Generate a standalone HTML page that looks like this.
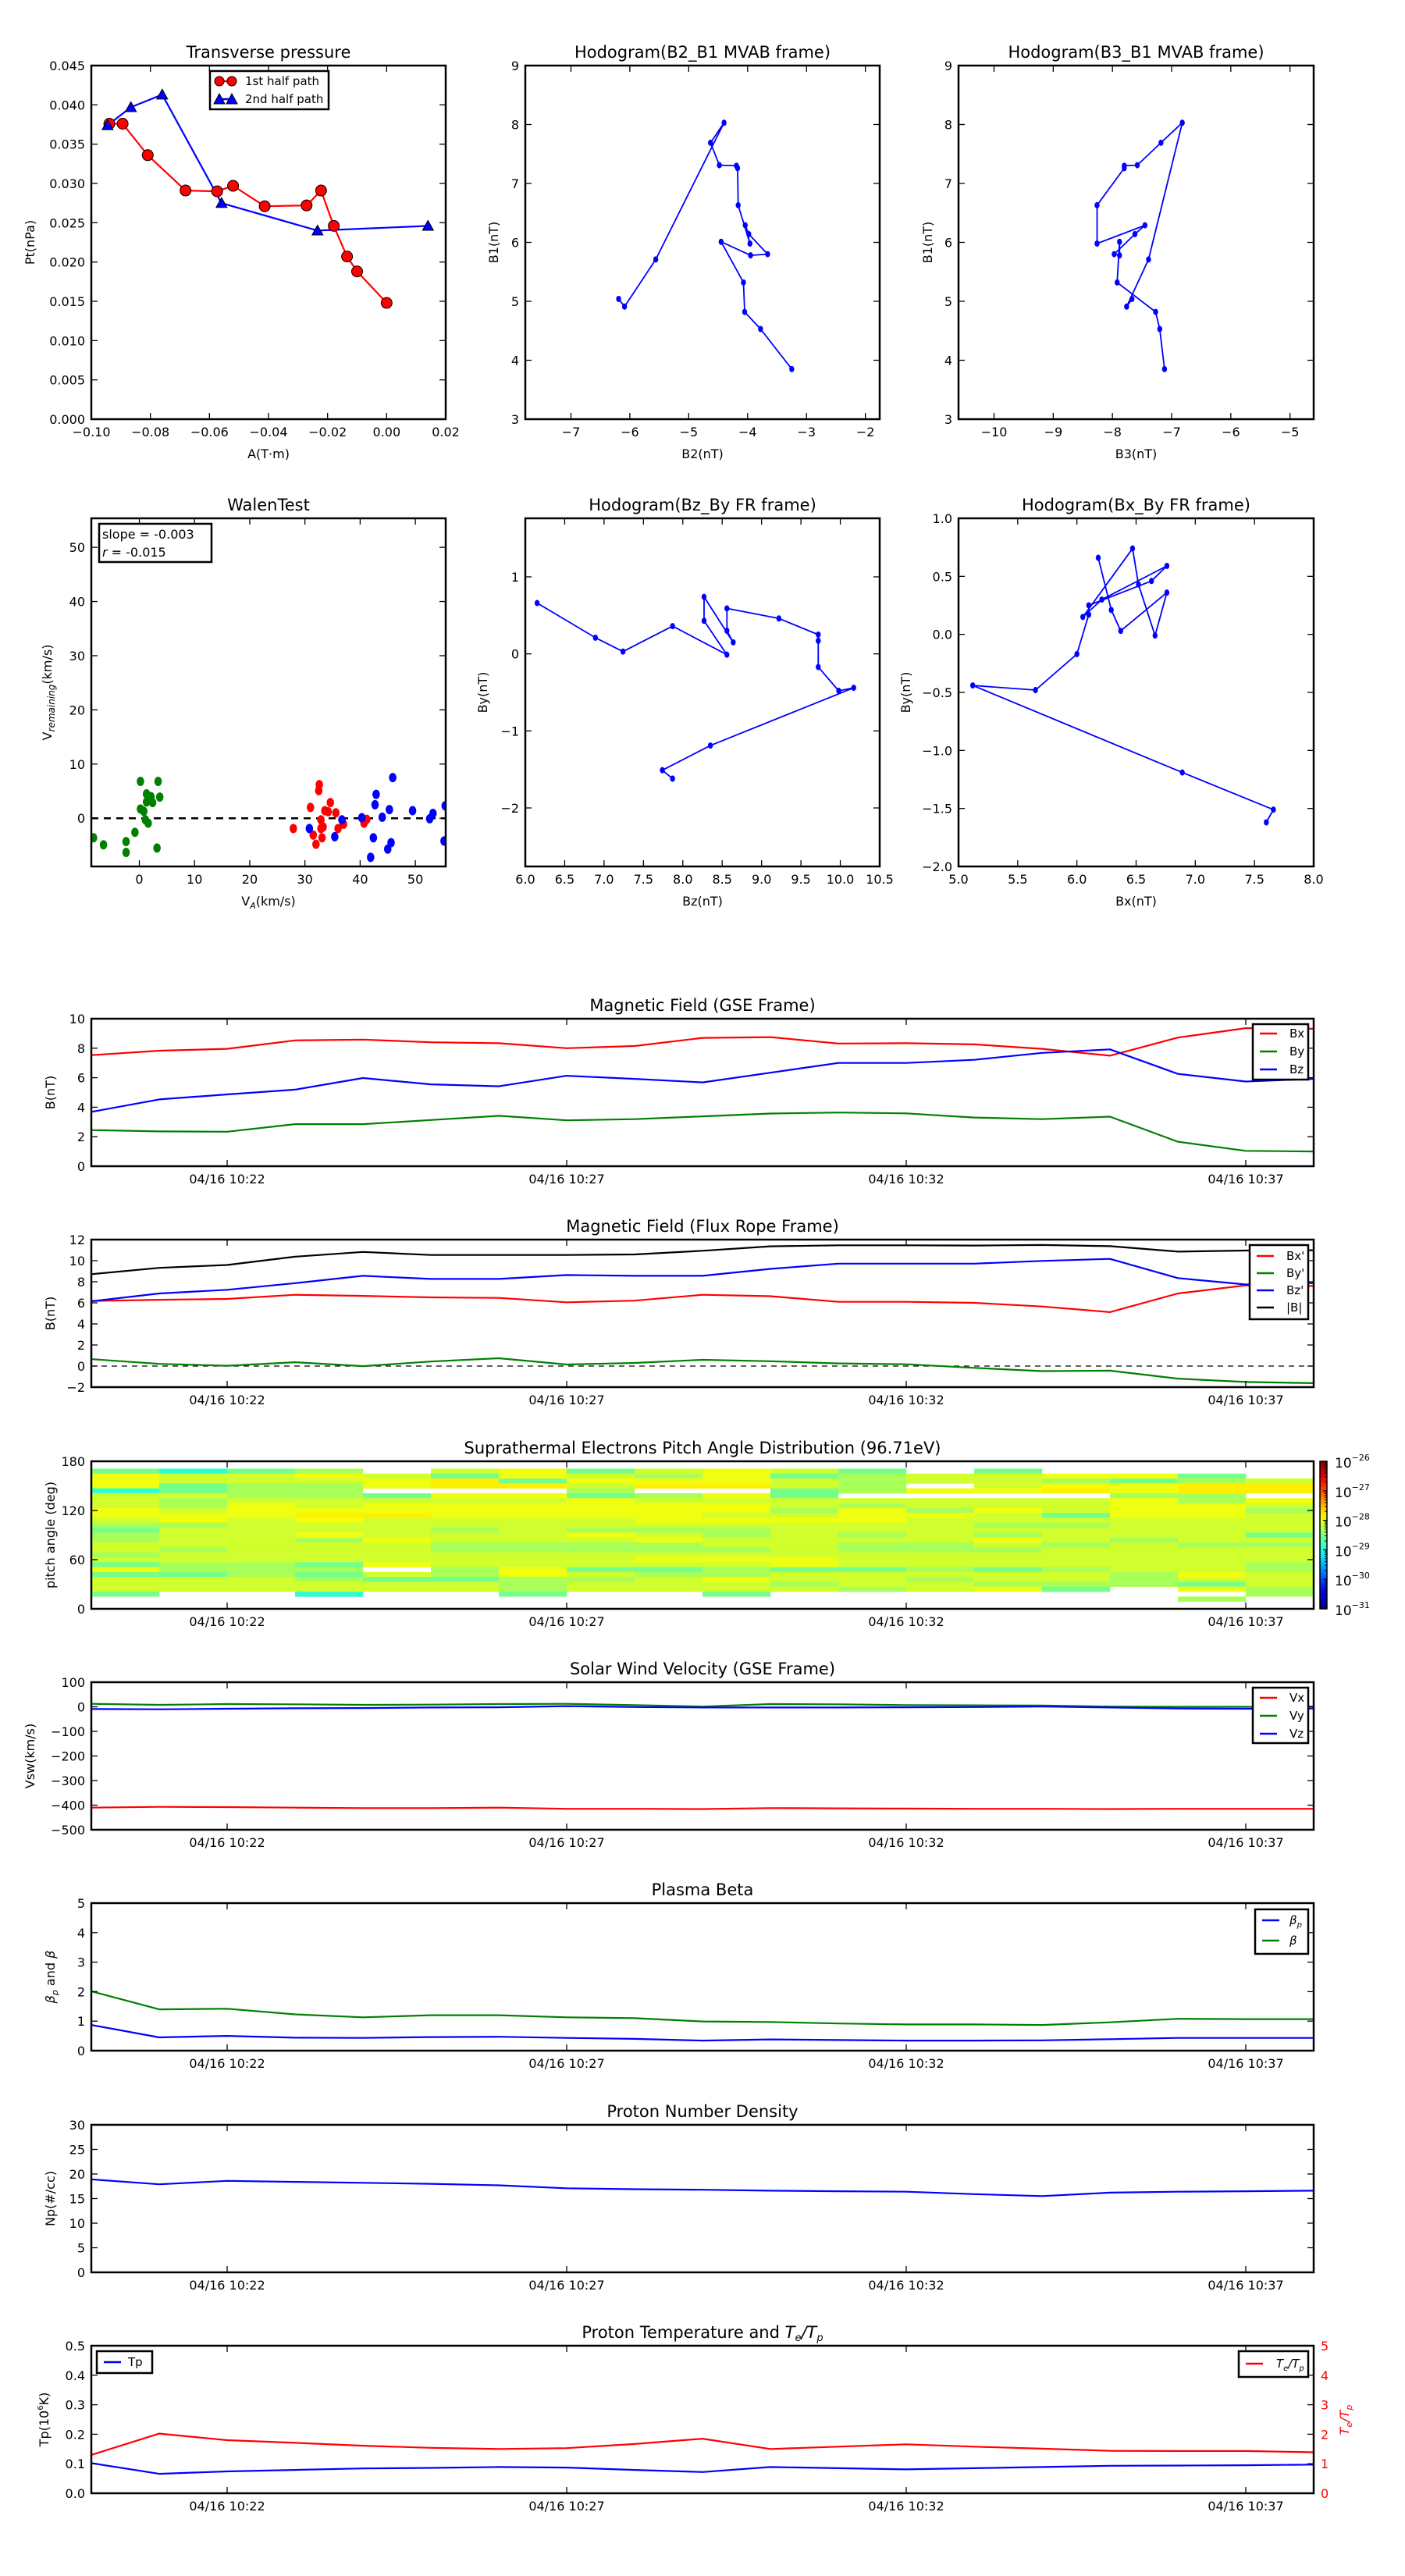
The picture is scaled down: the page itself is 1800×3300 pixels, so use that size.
<!DOCTYPE html>
<html><head><meta charset="utf-8"><title>Flux rope analysis</title>
<style>
html,body{margin:0;padding:0;background:#fff;}
svg{display:block;font-family:"DejaVu Sans","Liberation Sans",sans-serif;}
</style></head>
<body>
<svg id="fig" xmlns="http://www.w3.org/2000/svg" width="1800" height="3300" viewBox="0 0 1800 3300"></svg>
<script>
// ---------- DATA ----------
const ptRedA=[-0.0939,-0.0894,-0.0809,-0.0681,-0.0574,-0.052,-0.0413,-0.0271,-0.0222,-0.0179,-0.0134,-0.010,0.0];
const ptRedP=[0.0376,0.0376,0.0336,0.0291,0.0290,0.0297,0.0271,0.0272,0.0291,0.0246,0.0207,0.0188,0.0148];
const ptBlueA=[-0.0945,-0.0866,-0.076,-0.0559,-0.0234,0.014];
const ptBlueP=[0.0374,0.0397,0.0413,0.0275,0.0240,0.0246];
const mvB1=[5.04,4.91,5.71,8.03,7.69,7.31,7.30,7.26,6.63,5.98,6.29,6.14,5.80,5.78,6.01,5.32,4.82,4.53,3.85];
const mvB2=[-6.19,-6.09,-5.56,-4.40,-4.63,-4.48,-4.19,-4.17,-4.16,-3.96,-4.04,-3.98,-3.66,-3.95,-4.45,-4.07,-4.05,-3.78,-3.25];
const mvB3=[-7.67,-7.76,-7.39,-6.82,-7.18,-7.58,-7.80,-7.80,-8.26,-8.26,-7.45,-7.62,-7.97,-7.88,-7.88,-7.92,-7.27,-7.20,-7.12];
const walenGreenVA=[-8.3,-6.5,-2.4,-2.4,-0.8,0.2,0.2,0.8,1.1,1.3,1.6,1.3,2.1,2.4,3.4,3.7,3.2];
const walenGreenVR=[-3.6,-4.9,-4.3,-6.3,-2.6,6.8,1.7,1.3,-0.3,3.0,-0.9,4.5,4.0,2.9,6.8,3.9,-5.5];
const walenRedVA=[27.9,31.0,31.5,32.0,32.5,32.6,32.9,32.9,33.1,33.6,34.2,34.6,35.6,36.0,37.0,40.7,41.2,33.3];
const walenRedVR=[-1.9,2.0,-3.1,-4.8,5.1,6.2,-0.3,-1.9,-3.6,1.4,1.2,2.9,1.0,-1.9,-1.1,-0.9,-0.2,-1.6];
const walenBlueVA=[30.8,35.4,36.7,40.3,41.9,42.4,42.7,42.9,44.0,45.0,45.3,45.6,45.9,49.5,52.6,53.2,55.4,55.2];
const walenBlueVR=[-1.9,-3.4,-0.3,0.1,-7.2,-3.6,2.5,4.4,0.2,-5.7,1.6,-4.5,7.5,1.4,-0.1,0.9,2.3,-4.2];
const timeMin=[0,1,2,3,4,5,6,7,8,9,10,11,12,13,14,15,16,17,18];
const timeTicks=[2,7,12,17];
const timeTickLabels=['04/16 10:22','04/16 10:27','04/16 10:32','04/16 10:37'];
const gseBx=[7.53,7.83,7.96,8.53,8.58,8.40,8.34,8.00,8.15,8.70,8.75,8.32,8.34,8.26,7.96,7.49,8.72,9.36,9.32];
const gseBy=[2.45,2.36,2.34,2.85,2.85,3.13,3.42,3.11,3.19,3.38,3.57,3.64,3.58,3.30,3.19,3.36,1.66,1.04,1.00];
const gseBz=[3.68,4.53,4.87,5.19,5.98,5.55,5.42,6.13,5.92,5.68,6.34,7.00,7.00,7.21,7.68,7.92,6.26,5.74,5.92];
const frBx=[6.18,6.29,6.37,6.76,6.66,6.52,6.47,6.05,6.21,6.76,6.63,6.10,6.10,6.00,5.65,5.12,6.89,7.66,7.60];
const frBy=[0.66,0.21,0.03,0.36,-0.01,0.43,0.74,0.15,0.30,0.59,0.46,0.25,0.17,-0.17,-0.48,-0.44,-1.19,-1.51,-1.62];
const frBz=[6.15,6.89,7.24,7.87,8.56,8.27,8.27,8.64,8.56,8.56,9.22,9.72,9.72,9.72,9.98,10.17,8.35,7.74,7.87];
const frBt=[8.72,9.32,9.59,10.38,10.83,10.54,10.54,10.54,10.59,10.94,11.36,11.46,11.46,11.44,11.49,11.38,10.86,10.96,10.99];
// PAD: rows from 168 deg (top) down to 12 deg, 18 one-minute columns
const padCodes={'c':-28.9,'g':-28.55,'l':-28.3,'y':-28.1,'Y':-27.95,'o':-27.8};
const padRows=[
"gcgl.yYgyYyg.g....",
"YyyYygYylYglyyYYg.",
"YyyyYogYYYylyylgly",
"YgllYooyooyl.yYYoo",
"cgll...l..glYYoYoo",
"yyllgYYglYg....ll.",
"ylyyyyyYyyyyyyyYlY",
"ylYyYYYYYYylyyyYYy",
"YyYYYYYYYYlYlYyYYl",
"YYYooYYYYyyYYygYYy",
"yYyYyyyyYYYYyyyyyy",
"llyyyyyyyyyyyllyyy",
"gyyyylylllyyyyyyyy",
"lyyYyyyYylylylyyyg",
"lyylYyyyYyyyyYylyy",
"yyyyyllllyyllylyll",
"ylyyylllllylllyyyy",
"lyyyyyyyyyyyyyyyyy",
"yyyyyyyyYYYyyyyyyy",
"gllgYyyyyyYyyyyyyl",
"Ylll.lYgglgglglyyl",
"gglgylYyllyyyyylYy",
"yyylggllyYyylyylyy",
"yyyyyylyyylyylllgy",
"yyyyyylyyyylyYg.Yl",
"g..c..g..g.......l",
"................l."];
const swVx=[-410,-407,-408,-410,-412,-412,-410,-415,-415,-416,-412,-413,-414,-415,-415,-416,-415,-415,-415];
const swVy=[12,8,11,10,8,9,11,12,7,1,11,10,7,6,5,1,0,0,1];
const swVz=[-9,-10,-8,-6,-5,-3,-2,3,-1,-3,-3,-3,-2,-1,1,-3,-7,-8,-7];
const betaP=[0.87,0.45,0.50,0.44,0.43,0.46,0.47,0.43,0.40,0.34,0.38,0.36,0.34,0.34,0.35,0.39,0.43,0.43,0.43];
const betaT=[2.01,1.40,1.42,1.23,1.13,1.20,1.20,1.13,1.10,0.99,0.97,0.92,0.89,0.89,0.87,0.96,1.08,1.07,1.07];
const npDen=[18.9,17.9,18.6,18.4,18.2,18.0,17.7,17.1,16.9,16.8,16.6,16.5,16.4,15.9,15.5,16.2,16.4,16.5,16.6];
const tpTemp=[0.102,0.066,0.074,0.079,0.084,0.086,0.089,0.087,0.079,0.072,0.089,0.085,0.081,0.085,0.089,0.093,0.094,0.095,0.097];
const teTp=[1.30,2.02,1.80,1.71,1.61,1.54,1.50,1.53,1.67,1.85,1.50,1.58,1.66,1.58,1.51,1.44,1.43,1.43,1.39];

// ---------- HELPERS ----------
const NS='http://www.w3.org/2000/svg';
const svg=document.getElementById('fig');
let clipId=0;
function mk(tag,attrs,parent){const e=document.createElementNS(NS,tag);for(const k in attrs)e.setAttribute(k,attrs[k]);(parent||svg).appendChild(e);return e;}
function nm(e,n){
  
  
  return e;
}
function txt(x,y,html,opt,parent,name){
  const o=Object.assign({size:16,anchor:'middle',fill:'#000'},opt||{});
  const a={x:x,y:y,'font-size':o.size,'text-anchor':o.anchor,fill:o.fill};
  if(o.rot){a.transform='rotate('+o.rot+' '+x+' '+y+')';}
  if(o.style)a['font-style']=o.style;
  const t=mk('text',a,parent);t.innerHTML=html;nm(t,name||'label');return t;
}
function fmt(v,d){const s=v.toFixed(d);return s.replace('-','\u2212');}
function axes(c){
  const g=mk('g',{});nm(g,c.name);
  const sx=v=>c.x0+(v-c.xmin)/(c.xmax-c.xmin)*c.w;
  const sy=v=>c.y0+c.h-(v-c.ymin)/(c.ymax-c.ymin)*c.h;
  const id='clip'+(clipId++);
  const cp=mk('clipPath',{id:id},g);mk('rect',{x:c.x0,y:c.y0,width:c.w,height:c.h},cp);
  const data=mk('g',{'clip-path':'url(#'+id+')'},g);nm(data,c.name+'-data');
  const fr=mk('rect',{x:c.x0,y:c.y0,width:c.w,height:c.h,fill:'none',stroke:'#000','stroke-width':2.5},g);nm(fr,c.name+'-frame');
  const tk=mk('g',{stroke:'#000','stroke-width':1.3},g);nm(tk,c.name+'-ticks');
  (c.xticks||[]).forEach((v,i)=>{const x=sx(v);
    mk('line',{x1:x,x2:x,y1:c.y0+c.h,y2:c.y0+c.h-8},tk);mk('line',{x1:x,x2:x,y1:c.y0,y2:c.y0+8},tk);
    const lab=c.xlabels?c.xlabels[i]:fmt(v,c.xdec||0);
    txt(x,c.y0+c.h+22,lab,{size:16},g,'x-tick-label');});
  (c.yticks||[]).forEach((v,i)=>{const y=sy(v);
    mk('line',{x1:c.x0,x2:c.x0+8,y1:y,y2:y},tk);
    if(!c.noRightTicks)mk('line',{x1:c.x0+c.w,x2:c.x0+c.w-8,y1:y,y2:y},tk);
    const lab=c.ylabels?c.ylabels[i]:fmt(v,c.ydec||0);
    txt(c.x0-8,y+6,lab,{size:16,anchor:'end'},g,'y-tick-label');});
  if(c.title)txt(c.x0+c.w/2,c.y0-10,c.title,{size:21},g,'chart-title');
  if(c.xtitle)txt(c.x0+c.w/2,c.y0+c.h+50,c.xtitle,{size:16},g,'x-axis-title');
  if(c.ytitle)txt(c.ylx,c.y0+c.h/2,c.ytitle,{size:16,rot:-90},g,'y-axis-title');
  return {sx,sy,g,data,c};
}
function line(ax,xs,ys,color,name,opt){
  const o=opt||{};
  const pts=xs.map((x,i)=>ax.sx(x).toFixed(1)+','+ax.sy(ys[i]).toFixed(1)).join(' ');
  const p=mk('polyline',{points:pts,fill:'none',stroke:color,'stroke-width':o.w||2.2,'stroke-linejoin':'round'},ax.data);
  if(o.dash)p.setAttribute('stroke-dasharray',o.dash);
  nm(p,name);return p;
}
function dots(ax,xs,ys,color,name,r,stroke){
  xs.forEach((x,i)=>{const d=mk('ellipse',{cx:ax.sx(x),cy:ax.sy(ys[i]),rx:r*0.8,ry:r,fill:color},ax.data);
    if(stroke){d.setAttribute('stroke','#000');d.setAttribute('stroke-width',1);d.setAttribute('rx',r);}
    nm(d,name);});
}
function tris(ax,xs,ys,color,name,r){
  xs.forEach((x,i)=>{const cx=ax.sx(x),cy=ax.sy(ys[i]);
    const t=mk('polygon',{points:(cx)+','+(cy-r)+' '+(cx-r)+','+(cy+r*0.8)+' '+(cx+r)+','+(cy+r*0.8),fill:color,stroke:'#000','stroke-width':1},ax.data);
    nm(t,name);});
}
function legend(x,y,w,h,entries,name){
  const g=mk('g',{});nm(g,name);
  const r=mk('rect',{x:x,y:y,width:w,height:h,fill:'#fff',stroke:'#000','stroke-width':2.5},g);nm(r,'legend-box');
  entries.forEach(e=>{
    const l=mk('line',{x1:x+9,x2:x+31,y1:e.y,y2:e.y,stroke:e.color,'stroke-width':2.5},g);nm(l,'legend-line');
    if(e.marker==='circle'){const m=mk('circle',{cx:x+12,cy:e.y,r:6,fill:e.color,stroke:'#000'},g);nm(m,'legend-marker');const m2=mk('circle',{cx:x+28,cy:e.y,r:6,fill:e.color,stroke:'#000'},g);nm(m2,'legend-marker');}
    if(e.marker==='tri'){[x+12,x+28].forEach(cx=>{const m=mk('polygon',{points:cx+','+(e.y-7)+' '+(cx-7)+','+(e.y+6)+' '+(cx+7)+','+(e.y+6),fill:e.color,stroke:'#000'},g);nm(m,'legend-marker');});}
    txt(x+e.lx,e.y+5,e.label,{size:15,anchor:'start',style:e.style},g,'legend-label');
  });
}
function jet(v){v=Math.max(0,Math.min(1,v));
  const f=a=>Math.round(255*Math.max(0,Math.min(1,1.5-Math.abs(4*v-a))));
  return 'rgb('+f(3)+','+f(2)+','+f(1)+')';}
function range(a,b,s){const r=[];for(let v=a;v<=b+1e-9;v+=s)r.push(+v.toFixed(6));return r;}

// ---------- ROW 1 ----------
const R1Y=84,R1H=453;
const axPt=axes({name:'transverse-pressure-chart',x0:117,y0:R1Y,w:454,h:R1H,xmin:-0.10,xmax:0.02,ymin:0,ymax:0.045,
  xticks:range(-0.10,0.02,0.02),xdec:2,yticks:range(0,0.045,0.005),ydec:3,title:'Transverse pressure',xtitle:'A(T\u00b7m)',ytitle:'Pt(nPa)',ylx:44});
line(axPt,ptRedA,ptRedP,'#ff0000','first-half-path-line');
line(axPt,ptBlueA,ptBlueP,'#0000ff','second-half-path-line');
dots(axPt,ptRedA,ptRedP,'#ff0000','first-half-point',7,true);
tris(axPt,ptBlueA,ptBlueP,'#0000ff','second-half-point',7);
legend(269,91,152,49,[{color:'#ff0000',label:'1st half path',marker:'circle',y:104,lx:45},{color:'#0000ff',label:'2nd half path',marker:'tri',y:127,lx:45}],'pressure-legend');

const axH1=axes({name:'hodogram-b2-b1-chart',x0:673,y0:R1Y,w:454,h:R1H,xmin:-7.775,xmax:-1.757,ymin:3,ymax:9,
  xticks:range(-7,-2,1),yticks:range(3,9,1),title:'Hodogram(B2_B1 MVAB frame)',xtitle:'B2(nT)',ytitle:'B1(nT)',ylx:638});
line(axH1,mvB2,mvB1,'#0000ff','hodogram-b2-b1-line',{w:1.8});
dots(axH1,mvB2,mvB1,'#0000ff','hodogram-point',4);
const axH2=axes({name:'hodogram-b3-b1-chart',x0:1228,y0:R1Y,w:455,h:R1H,xmin:-10.6,xmax:-4.6,ymin:3,ymax:9,
  xticks:range(-10,-5,1),yticks:range(3,9,1),title:'Hodogram(B3_B1 MVAB frame)',xtitle:'B3(nT)',ytitle:'B1(nT)',ylx:1194});
line(axH2,mvB3,mvB1,'#0000ff','hodogram-b3-b1-line',{w:1.8});
dots(axH2,mvB3,mvB1,'#0000ff','hodogram-point',4);

// ---------- ROW 2 ----------
const R2Y=664,R2H=446;
const axW=axes({name:'walen-test-chart',x0:117,y0:R2Y,w:454,h:R2H,xmin:-8.7,xmax:55.5,ymin:-8.9,ymax:55.35,
  xticks:range(0,50,10),yticks:range(0,50,10),title:'WalenTest',
  xtitle:'V<tspan font-size="11" dy="4" font-style="italic">A</tspan><tspan dy="-4">(km/s)</tspan>',
  ytitle:'V<tspan font-size="12" dy="4" font-style="italic">remaining</tspan><tspan dy="-4">(km/s)</tspan>',ylx:66});
line(axW,[-8.7,55.5],[0,0],'#000','zero-line',{dash:'9,7',w:2.5});
dots(axW,walenGreenVA,walenGreenVR,'#008000','walen-green-point',6);
dots(axW,walenRedVA,walenRedVR,'#ff0000','walen-red-point',6);
dots(axW,walenBlueVA,walenBlueVR,'#0000ff','walen-blue-point',6);
(function(){const g=mk('g',{});nm(g,'walen-stats-box');
  const r=mk('rect',{x:127,y:671,width:144,height:49,fill:'#fff',stroke:'#000','stroke-width':2.5},g);nm(r,'stats-box-frame');
  txt(131,690,'slope = -0.003',{size:16,anchor:'start'},g,'slope-text');
  txt(131,713,'<tspan font-style="italic">r</tspan> = -0.015',{size:16,anchor:'start'},g,'r-text');})();

const axH3=axes({name:'hodogram-bz-by-chart',x0:673,y0:R2Y,w:454,h:R2H,xmin:6.0,xmax:10.5,ymin:-2.76,ymax:1.76,
  xticks:range(6,10.5,0.5),xdec:1,yticks:range(-2,1,1),title:'Hodogram(Bz_By FR frame)',xtitle:'Bz(nT)',ytitle:'By(nT)',ylx:624});
line(axH3,frBz,frBy,'#0000ff','hodogram-bz-by-line',{w:1.8});
dots(axH3,frBz,frBy,'#0000ff','hodogram-point',4);
const axH4=axes({name:'hodogram-bx-by-chart',x0:1228,y0:R2Y,w:455,h:R2H,xmin:5.0,xmax:8.0,ymin:-2.0,ymax:1.0,
  xticks:range(5,8,0.5),xdec:1,yticks:range(-2,1,0.5),ydec:1,title:'Hodogram(Bx_By FR frame)',xtitle:'Bx(nT)',ytitle:'By(nT)',ylx:1166});
line(axH4,frBx,frBy,'#0000ff','hodogram-bx-by-line',{w:1.8});
dots(axH4,frBx,frBy,'#0000ff','hodogram-point',4);

// ---------- TIME SERIES ----------
function tpanel(name,y0,ymin,ymax,yticks,ydec,title,ytitle,extra){
  return axes(Object.assign({name:name,x0:117,y0:y0,w:1566,h:189,xmin:0,xmax:18,ymin:ymin,ymax:ymax,
    xticks:timeTicks,xlabels:timeTickLabels,yticks:yticks,ydec:ydec,title:title,ytitle:ytitle,ylx:70},extra||{}));
}
const axG=tpanel('magnetic-field-gse-chart',1305,0,10,range(0,10,2),0,'Magnetic Field (GSE Frame)','B(nT)');
line(axG,timeMin,gseBx,'#ff0000','bx-line');line(axG,timeMin,gseBy,'#008000','by-line');line(axG,timeMin,gseBz,'#0000ff','bz-line');
legend(1605,1312,71,71,[{color:'#ff0000',label:'Bx',y:1324,lx:47},{color:'#008000',label:'By',y:1347,lx:47},{color:'#0000ff',label:'Bz',y:1370,lx:47}],'gse-legend');

const axF=tpanel('magnetic-field-fr-chart',1588,-2,12,range(-2,12,2),0,'Magnetic Field (Flux Rope Frame)','B(nT)');
line(axF,[0,18],[0,0],'#000','zero-line',{dash:'7,6',w:1.3});
line(axF,timeMin,frBx,'#ff0000','bx-prime-line');line(axF,timeMin,frBy,'#008000','by-prime-line');
line(axF,timeMin,frBz,'#0000ff','bz-prime-line');line(axF,timeMin,frBt,'#000000','b-total-line');
legend(1601,1595,75,95,[{color:'#ff0000',label:"Bx'",y:1609,lx:47},{color:'#008000',label:"By'",y:1631,lx:47},{color:'#0000ff',label:"Bz'",y:1653,lx:47},{color:'#000000',label:'|B|',y:1675,lx:47}],'fr-legend');

const axP=tpanel('pitch-angle-chart',1872,0,180,[0,60,120,180],0,'Suprathermal Electrons Pitch Angle Distribution (96.71eV)','pitch angle (deg)');
padRows.forEach((row,r)=>{for(let c=0;c<18;c++){const ch=row.charAt(c);if(!padCodes[ch])continue;
  const lv=padCodes[ch];const top=171-6*r;
  const x=axP.sx(c),y=axP.sy(top);
  const cell=mk('rect',{x:x,y:y,width:axP.sx(c+1)-x+0.3,height:axP.sy(top-6)-y+0.3,fill:jet((lv+31)/5)},axP.data);
  nm(cell,'pad-cell');}});
// colorbar
(function(){const g=mk('g',{});nm(g,'colorbar');
  const defs=mk('defs',{},g);const lg=mk('linearGradient',{id:'jetg',x1:0,y1:1,x2:0,y2:0},defs);
  for(let i=0;i<=20;i++)mk('stop',{offset:i/20,'stop-color':jet(i/20)},lg);
  const top=1872,bot=2061,x=1691,w=9;
  const r=mk('rect',{x:x,y:top,width:w,height:bot-top,fill:'url(#jetg)',stroke:'#000','stroke-width':1.5},g);nm(r,'colorbar-scale');
  const cy=lv=>bot-(lv+31)/5*(bot-top);
  for(let d=-31;d<=-26;d++){
    const y=cy(d);mk('line',{x1:x+w-5,x2:x+w,y1:y,y2:y,stroke:'#000','stroke-width':1.2},g);
    txt(x+w+10,y+8,'10<tspan font-size="11" dy="-9">\u2212'+(-d)+'</tspan>',{size:17,anchor:'start'},g,'colorbar-tick-label');
    if(d<-26){for(let k=2;k<=9;k++){const ym=cy(d+Math.log10(k));mk('line',{x1:x+w-3,x2:x+w,y1:ym,y2:ym,stroke:'#000','stroke-width':1},g);}}
  }})();

const axS=tpanel('solar-wind-velocity-chart',2155,-500,100,range(-500,100,100),0,'Solar Wind Velocity (GSE Frame)','Vsw(km/s)',{ylx:44});
line(axS,timeMin,swVx,'#ff0000','vx-line');line(axS,timeMin,swVy,'#008000','vy-line');line(axS,timeMin,swVz,'#0000ff','vz-line');
legend(1605,2162,71,71,[{color:'#ff0000',label:'Vx',y:2175,lx:47},{color:'#008000',label:'Vy',y:2198,lx:47},{color:'#0000ff',label:'Vz',y:2221,lx:47}],'velocity-legend');

const axB=tpanel('plasma-beta-chart',2438,0,5,range(0,5,1),0,'Plasma Beta','<tspan font-style="italic">\u03b2<tspan font-size="11" dy="4">p</tspan></tspan><tspan dy="-4"> and </tspan><tspan font-style="italic">\u03b2</tspan>');
line(axB,timeMin,betaP,'#0000ff','beta-p-line');line(axB,timeMin,betaT,'#008000','beta-line');
legend(1608,2446,68,57,[{color:'#0000ff',label:'\u03b2<tspan font-size="10" dy="4">p</tspan>',y:2460,lx:44,style:'italic'},{color:'#008000',label:'\u03b2',y:2486,lx:44,style:'italic'}],'beta-legend');

const axN=tpanel('proton-density-chart',2722,0,30,range(0,30,5),0,'Proton Number Density','Np(#/cc)');
line(axN,timeMin,npDen,'#0000ff','density-line');

const axT=tpanel('proton-temperature-chart',3005,0,0.5,range(0,0.5,0.1),1,'Proton Temperature and <tspan font-style="italic">T<tspan font-size="13" dy="4">e</tspan><tspan dy="-4">/T</tspan><tspan font-size="13" dy="4">p</tspan></tspan>','Tp(10<tspan font-size="10" dy="-7">6</tspan><tspan dy="7">K)</tspan>',{noRightTicks:true,ylx:62});
line(axT,timeMin,tpTemp,'#0000ff','tp-line');
const axT2={sx:axT.sx,sy:v=>3005+189-v/5*189,data:axT.data};
line(axT2,timeMin,teTp,'#ff0000','te-tp-line');
(function(){const g=mk('g',{});nm(g,'right-axis');
  [0,1,2,3,4,5].forEach(v=>{const y=axT2.sy(v);const l=mk('line',{x1:1683,x2:1675,y1:y,y2:y,stroke:'#000','stroke-width':1.3},g);nm(l,'right-tick');
    txt(1692,y+6,String(v),{size:16,anchor:'start',fill:'#ff0000'},g,'right-tick-label');});
  txt(1728,3100,'<tspan font-style="italic">T<tspan font-size="11" dy="4">e</tspan><tspan dy="-4">/T</tspan><tspan font-size="11" dy="4">p</tspan></tspan>',{size:16,rot:-90,fill:'#ff0000'},g,'right-axis-title');})();
legend(124,3012,71,28,[{color:'#0000ff',label:'Tp',y:3026,lx:40}],'tp-legend');
legend(1587,3012,89,33,[{color:'#ff0000',label:'<tspan font-style="italic">T<tspan font-size="10" dy="4">e</tspan><tspan dy="-4">/T</tspan><tspan font-size="10" dy="4">p</tspan></tspan>',y:3028,lx:48}],'te-tp-legend');
</script>
</body></html>
